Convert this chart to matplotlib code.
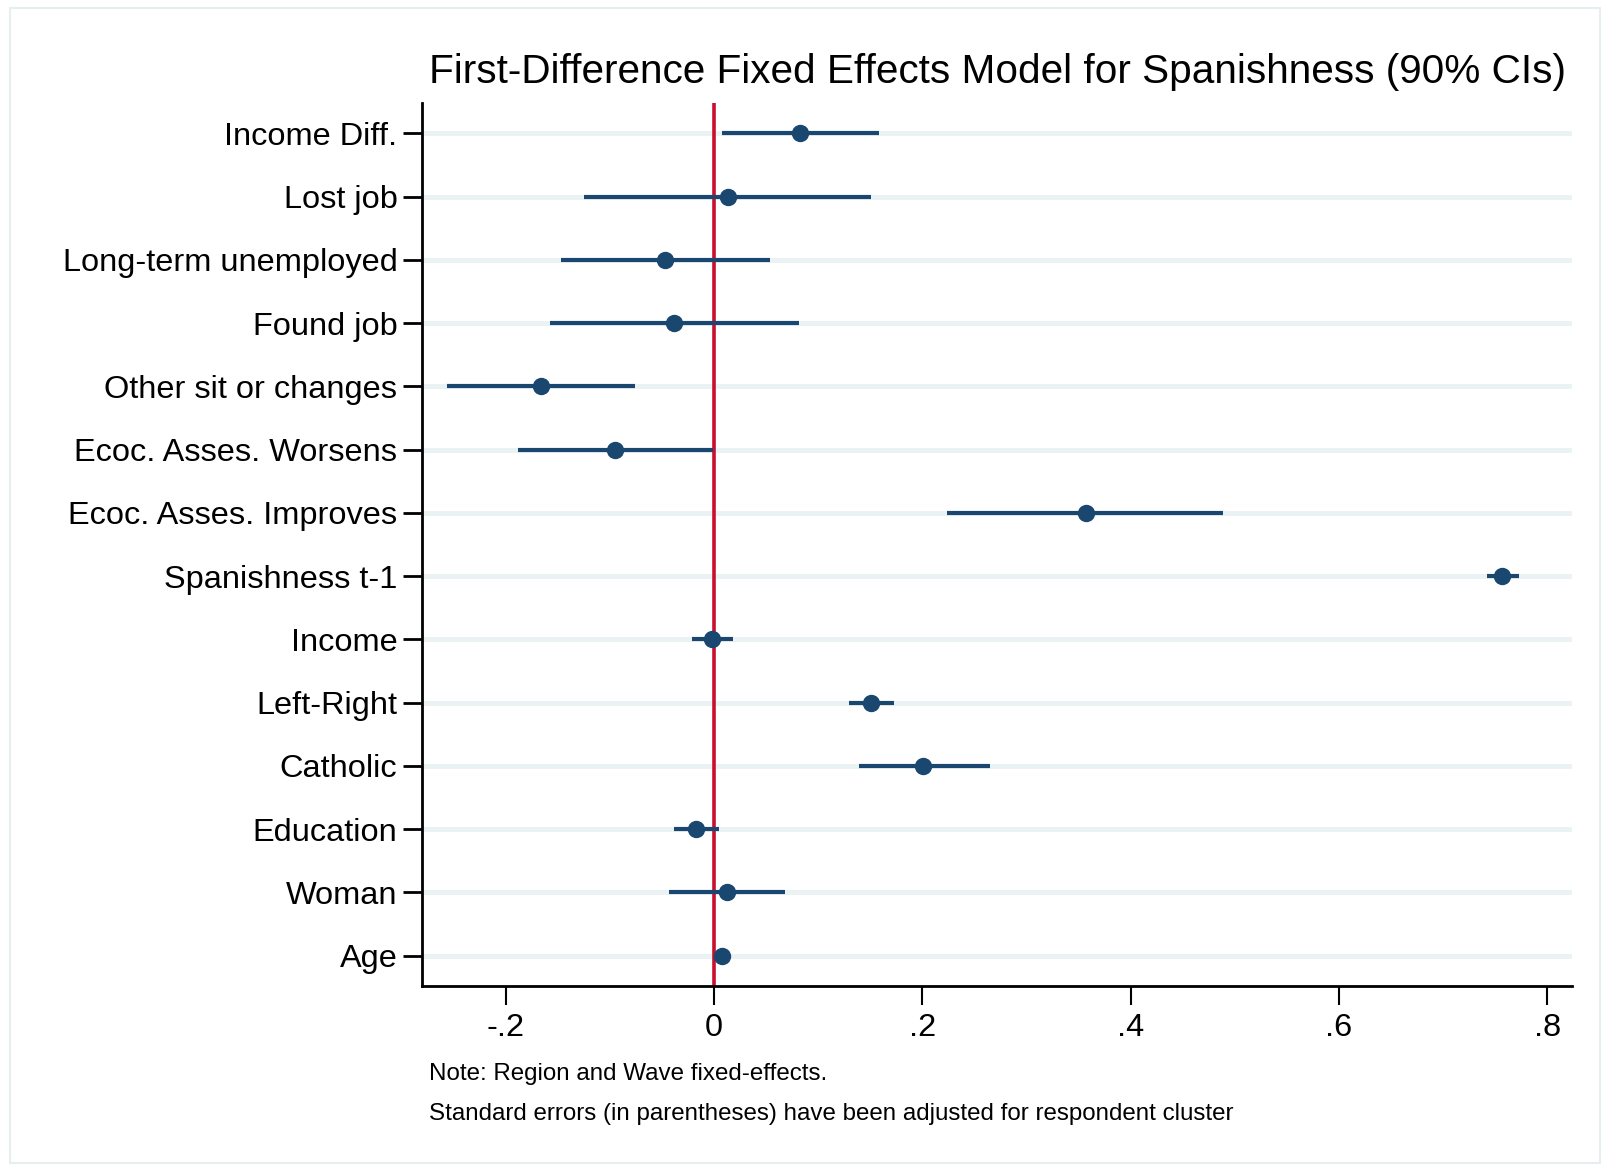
import matplotlib
matplotlib.use("Agg")
import matplotlib.pyplot as plt
from matplotlib.patches import Rectangle

# coefficient estimates and 90% CIs (top to bottom)
labels = ["Income Diff.", "Lost job", "Long-term unemployed", "Found job",
          "Other sit or changes", "Ecoc. Asses. Worsens", "Ecoc. Asses. Improves",
          "Spanishness t-1", "Income", "Left-Right", "Catholic", "Education",
          "Woman", "Age"]
coef = [0.083, 0.013, -0.047, -0.038, -0.166, -0.095, 0.357,
        0.757, -0.002, 0.151, 0.201, -0.017, 0.012, 0.008]
ci_low = [0.008, -0.125, -0.147, -0.157, -0.256, -0.188, 0.224,
          0.742, -0.021, 0.130, 0.139, -0.038, -0.043, 0.005]
ci_high = [0.158, 0.151, 0.054, 0.082, -0.076, -0.001, 0.489,
           0.773, 0.018, 0.173, 0.265, 0.005, 0.068, 0.011]
xticks = [-0.2, 0, 0.2, 0.4, 0.6, 0.8]
xticklabels = ["-.2", "0", ".2", ".4", ".6", ".8"]

navy = "#1a476f"
red = "#c8102e"
grid_col = "#eaf2f3"

plt.rcParams["font.family"] = ["Liberation Sans", "DejaVu Sans"]

fig = plt.figure(figsize=(16.06, 11.66), dpi=100)
fig.patches.append(Rectangle((0.006, 0.003), 0.99, 0.99, transform=fig.transFigure,
                             fill=False, edgecolor="#e6eef0", linewidth=1.5))
ax = fig.add_axes([0.263, 0.154, 0.716, 0.758])

ypos = list(range(1, len(labels) + 1))
for y in ypos:
    ax.axhline(y, color=grid_col, linewidth=3.5, zorder=0)

ax.axvline(0, color=red, linewidth=2.6, zorder=2)
ax.hlines(ypos, ci_low, ci_high, color=navy, linewidth=3, zorder=3)
ax.plot(coef, ypos, "o", color=navy, markersize=11.5, zorder=4)

ax.set_xlim(-0.28, 0.824)
ax.set_ylim(14.485, 0.515)
ax.set_yticks(ypos)
ax.set_yticklabels(labels, fontsize=23.4)
ax.set_xticks(xticks)
ax.set_xticklabels(xticklabels, fontsize=23.4)
ax.tick_params(axis="both", direction="out", length=14, width=2)
ax.tick_params(axis="y", pad=4)
ax.tick_params(axis="x", width=1.5, pad=5)

for s in ["top", "right"]:
    ax.spines[s].set_visible(False)
ax.spines["left"].set_linewidth(2)
ax.spines["bottom"].set_linewidth(2)

fig.text(0.621, 0.938, "First-Difference Fixed Effects Model for Spanishness (90% CIs)",
         ha="center", va="center", fontsize=29.2)
fig.text(0.267, 0.079, "Note: Region and Wave fixed-effects.", fontsize=17.4, va="center")
fig.text(0.267, 0.045,
         "Standard errors (in parentheses) have been adjusted for respondent cluster",
         fontsize=17.4, va="center")

fig.savefig("out.png", dpi=100)
